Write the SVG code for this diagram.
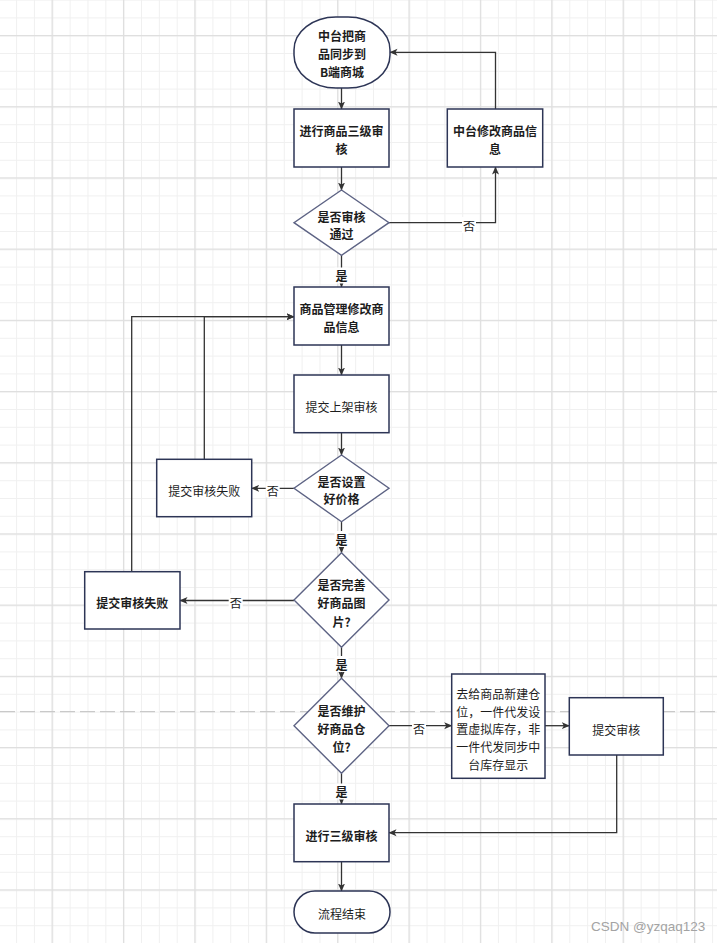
<svg xmlns="http://www.w3.org/2000/svg" width="717" height="943" viewBox="0 0 717 943">
<style>
text{font-family:"Noto Sans CJK SC","Liberation Sans",sans-serif;font-size:12px;fill:#1d1d1d;text-anchor:middle;dominant-baseline:central}
.b{font-weight:bold}
.box{fill:#fff;stroke:#2d3556;stroke-width:1.5}
.dia{fill:#fff;stroke:#5d6384;stroke-width:1.4}
.edge{fill:none;stroke:#333;stroke-width:1.3}
.arr{marker-end:url(#ah)}
.lbg{fill:#fff}
.wm{font-family:"Liberation Sans",Arial,sans-serif;font-size:13.5px;fill:#a3a3a3;text-anchor:start;font-weight:normal}
</style>
<defs>
<pattern id="minor" patternUnits="userSpaceOnUse" x="16.1" y="-0.4" width="17.845" height="17.8">
<rect width="1" height="17.8" fill="#f0f0f0"/>
<rect width="17.845" height="1" fill="#f0f0f0"/>
</pattern>
<pattern id="major" patternUnits="userSpaceOnUse" x="51.6" y="35" width="71.38" height="71.2">
<rect width="1.3" height="71.2" fill="#dfdfdf"/>
<rect width="71.38" height="1.3" fill="#dfdfdf"/>
</pattern>
<marker id="ah" markerUnits="userSpaceOnUse" markerWidth="8" markerHeight="8" viewBox="0 0 8 8" refX="7.5" refY="4" orient="auto">
<path d="M0,0.5 L8,4 L0,7.5 L2,4 z" fill="#333"/>
</marker>
</defs>
<rect width="717" height="943" fill="#fff"/>
<rect width="717" height="943" fill="url(#minor)"/>
<rect width="717" height="943" fill="url(#major)"/>
<line x1="0" y1="711.7" x2="717" y2="711.7" stroke="#c9c9c9" stroke-width="1.3" stroke-dasharray="15,5"/>

<g id="connectors">
<path class="edge arr" d="M341.5,88 V109"/>
<path class="edge arr" d="M341.5,167 V190"/>
<path class="edge arr" d="M389,222.7 H495.5 V167"/>
<path class="edge arr" d="M495.5,109 V52.3 H390"/>
<path class="edge arr" d="M341.5,255.3 V287"/>
<path class="edge arr" d="M341.5,345 V375"/>
<path class="edge arr" d="M341.5,432.7 V455"/>
<path class="edge arr" d="M294,488.3 H251.7"/>
<path class="edge arr" d="M204.3,459.3 V316.7 H294"/>
<path class="edge arr" d="M131.7,571.7 V316.7 H294"/>
<path class="edge arr" d="M341.5,521.7 V552.7"/>
<path class="edge arr" d="M294,600.5 H180"/>
<path class="edge arr" d="M341.5,647.3 V678.3"/>
<path class="edge arr" d="M389,725.7 H451.7"/>
<path class="edge arr" d="M545,725.7 H569.3"/>
<path class="edge arr" d="M616.7,755 V832.7 H389"/>
<path class="edge arr" d="M341.5,773.3 V804"/>
<path class="edge arr" d="M341.5,861.7 V891"/>
<g id="edge-labels">
<rect class="lbg" x="462" y="217" width="14" height="16"/><text x="469" y="225.7">否</text>
<rect class="lbg" x="334.5" y="267.5" width="14" height="16"/><text class="b" x="341.5" y="275.7">是</text>
<rect class="lbg" x="265.7" y="481.5" width="14" height="16"/><text x="272.7" y="490">否</text>
<rect class="lbg" x="334.5" y="531" width="14" height="16"/><text class="b" x="341.5" y="539">是</text>
<rect class="lbg" x="228.7" y="593.5" width="14" height="16"/><text x="235.7" y="602">否</text>
<rect class="lbg" x="334.5" y="656" width="14" height="16"/><text class="b" x="341.5" y="664">是</text>
<rect class="lbg" x="412" y="719.5" width="14" height="16"/><text x="419" y="728">否</text>
<rect class="lbg" x="334.5" y="783.5" width="14" height="16"/><text class="b" x="341.5" y="791.7">是</text>
</g>
</g>

<g id="start">
<rect class="box" x="294" y="17" width="96" height="71" rx="42" ry="33"/>
<text class="b" x="342" y="35">中台把商</text>
<text class="b" x="342" y="53.3">品同步到</text>
<text class="b" x="342" y="71.7">B端商城</text>
</g>
<g id="review1">
<rect class="box" x="294" y="109" width="95" height="58"/>
<text class="b" x="341.5" y="130.7">进行商品三级审</text>
<text class="b" x="341.5" y="148.3">核</text>
</g>
<g id="modify-center">
<rect class="box" x="447.3" y="109" width="95.4" height="58"/>
<text class="b" x="495" y="130.7">中台修改商品信</text>
<text class="b" x="495" y="148.3">息</text>
</g>
<g id="dec-pass">
<polygon class="dia" points="341.5,190 389,222.7 341.5,255.3 294,222.7"/>
<text class="b" x="341.5" y="216">是否审核</text>
<text class="b" x="341.5" y="233.3">通过</text>
</g>
<g id="modify-goods">
<rect class="box" x="294" y="287" width="95" height="58"/>
<text class="b" x="341.5" y="308.7">商品管理修改商</text>
<text class="b" x="341.5" y="326">品信息</text>
</g>
<g id="submit-shelf">
<rect class="box" x="294" y="375" width="95" height="57.7"/>
<text x="341.5" y="406">提交上架审核</text>
</g>
<g id="dec-price">
<polygon class="dia" points="341.5,455 389,488.3 341.5,521.7 294,488.3"/>
<text class="b" x="341.5" y="481.7">是否设置</text>
<text class="b" x="341.5" y="498.3">好价格</text>
</g>
<g id="fail1">
<rect class="box" x="156.7" y="459.3" width="95" height="57.4"/>
<text x="204.2" y="490.5">提交审核失败</text>
</g>
<g id="dec-image">
<polygon class="dia" points="341.5,552.7 389,600 341.5,647.3 294,600"/>
<text class="b" x="341.5" y="584.3">是否完善</text>
<text class="b" x="341.5" y="602.7">好商品图</text>
<text class="b" x="341.5" y="621">片?</text>
</g>
<g id="fail2">
<rect class="box" x="84.7" y="571.7" width="95.3" height="57.3"/>
<text class="b" x="132.3" y="602.3">提交审核失败</text>
</g>
<g id="dec-warehouse">
<polygon class="dia" points="341.5,678.3 389,725.8 341.5,773.3 294,725.8"/>
<text class="b" x="341.5" y="710">是否维护</text>
<text class="b" x="341.5" y="728.3">好商品仓</text>
<text class="b" x="341.5" y="746">位?</text>
</g>
<g id="new-warehouse">
<rect class="box" x="451.7" y="674" width="93.3" height="104.3"/>
<text x="498.3" y="693.3">去给商品新建仓</text>
<text x="498.3" y="711">位，一件代发设</text>
<text x="498.3" y="728.7">置虚拟库存，非</text>
<text x="498.3" y="746.4">一件代发同步中</text>
<text x="498.3" y="764.1">台库存显示</text>
</g>
<g id="submit">
<rect class="box" x="569.3" y="697.7" width="94" height="57.3"/>
<text x="616.3" y="729">提交审核</text>
</g>
<g id="review3">
<rect class="box" x="294" y="804" width="95" height="57.7"/>
<text class="b" x="341.5" y="835">进行三级审核</text>
</g>
<g id="end">
<rect class="box" x="294" y="891" width="96" height="42" rx="21" ry="21"/>
<text x="342" y="913.3">流程结束</text>
</g>
<text class="wm" x="591" y="926">CSDN @yzqaq123</text>
</svg>
